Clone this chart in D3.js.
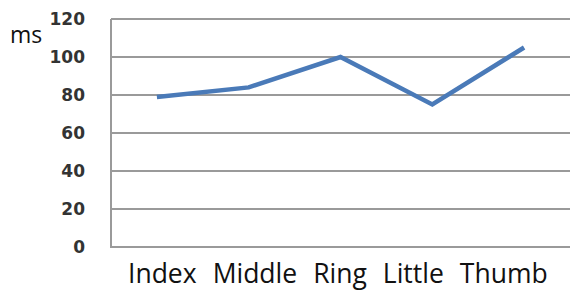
<!DOCTYPE html>
<html>
<head>
<meta charset="utf-8">
<script src="https://cdn.jsdelivr.net/npm/d3@7"></script>
<style>
  body { margin: 0; background: #fff; }
  svg { display: block; }
</style>
</head>
<body>
<div id="chart"></div>
<script>
var width = 570,
	height = 291;

var fingers = ['Index', 'Middle', 'Ring', 'Little', 'Thumb'];
var times = [79, 84, 100, 75, 105];
var yTicks = [0, 20, 40, 60, 80, 100, 120];

var svg = d3.select('#chart').append('svg')
	.attr('width', width)
	.attr('height', height);

var x = d3.scaleBand()
	.domain(fingers)
	.range([111, 570]);

var y = d3.scaleLinear()
	.domain([0, 120])
	.range([247, 19]);

// grid
svg.append('g')
	.selectAll('line')
	.data(yTicks)
	.enter()
	.append('line')
	.attr('x1', 111)
	.attr('x2', width)
	.attr('y1', d => y(d))
	.attr('y2', d => y(d))
	.attr('stroke', '#9a9a9a')
	.attr('stroke-width', 2);

// y axis line
svg.append('line')
	.attr('x1', 111).attr('x2', 111)
	.attr('y1', y(120)).attr('y2', y(0) + 1)
	.attr('stroke', '#9a9a9a')
	.attr('stroke-width', 2);

// tick labels
svg.append('g')
	.selectAll('text')
	.data(yTicks)
	.enter()
	.append('text')
	.attr('x', 85)
	.attr('y', d => y(d) + 1)
	.attr('text-anchor', 'end')
	.attr('dominant-baseline', 'middle')
	.attr('font-family', 'Verdana, "DejaVu Sans", sans-serif')
	.attr('font-weight', 'bold')
	.attr('font-size', 17)
	.attr('fill', '#333')
	.text(d => d);

svg.append('text')
	.attr('x', 10)
	.attr('y', 43)
	.attr('font-family', '"Open Sans", sans-serif')
	.attr('font-size', 23)
	.attr('fill', '#111')
	.text('ms');

// category labels: in the original they run on one after another
// with an even gap, not centred under the points
var labels = svg.append('g')
	.selectAll('text')
	.data(fingers)
	.enter()
	.append('text')
	.attr('y', 283)
	.attr('font-family', '"Open Sans", sans-serif')
	.attr('font-size', 26.5)
	.attr('fill', '#111')
	.text(d => d);

var cursor = 128;
labels.each(function() {
	d3.select(this).attr('x', cursor);
	cursor += this.getComputedTextLength() + 16;
});

var line = d3.line()
	.x((d, i) => x(fingers[i]) + x.bandwidth() / 2)
	.y(d => y(d));

svg.append('path')
	.datum(times)
	.attr('d', line)
	.attr('fill', 'none')
	.attr('stroke', '#4a7ab8')
	.attr('stroke-width', 4.5)
	.attr('stroke-linejoin', 'miter');
</script>
</body>
</html>
